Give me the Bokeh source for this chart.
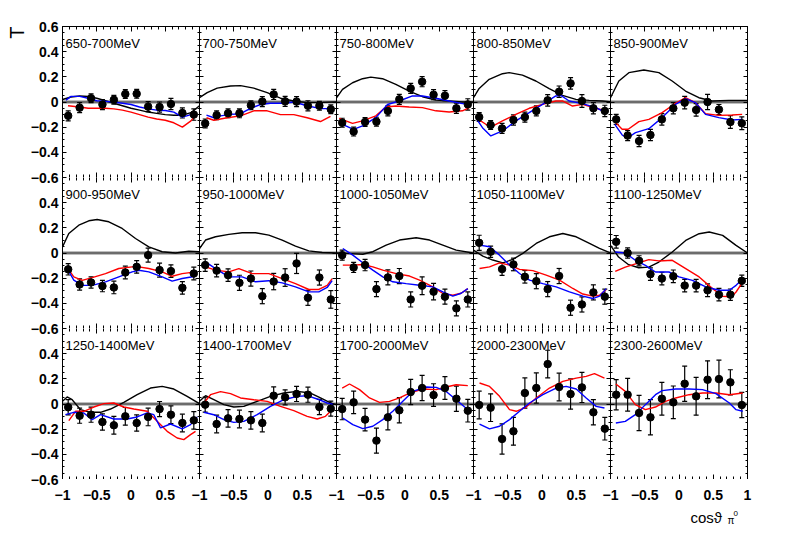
from bokeh.plotting import figure
from bokeh.models import (Range1d, LinearAxis, FixedTicker, Label, Whisker, Title,
                          ColumnDataSource, Span, TeeHead, GridPlot)
from bokeh.embed import file_html
from bokeh.resources import INLINE

# ---------------- data ----------------
energy_bins = ["650-700MeV", "700-750MeV", "750-800MeV", "800-850MeV", "850-900MeV",
               "900-950MeV", "950-1000MeV", "1000-1050MeV", "1050-1100MeV", "1100-1250MeV",
               "1250-1400MeV", "1400-1700MeV", "1700-2000MeV", "2000-2300MeV", "2300-2600MeV"]
cos_centers = [-0.917, -0.75, -0.583, -0.417, -0.25, -0.083, 0.083, 0.25, 0.417, 0.583, 0.75, 0.917]

x_ticks = [-1, -0.5, 0, 0.5, 1]
x_tick_labels = ["\u22121", "\u22120.5", "0", "0.5", "1"]
x_minor = [-1, -0.9, -0.8, -0.7, -0.6, -0.5, -0.4, -0.3, -0.2, -0.1, 0, 0.1, 0.2, 0.3, 0.4,
           0.5, 0.6, 0.7, 0.8, 0.9, 1]
y_ticks = [-0.6, -0.4, -0.2, 0, 0.2, 0.4, 0.6]
y_tick_labels = ["\u22120.6", "\u22120.4", "\u22120.2", "0", "0.2", "0.4", "0.6"]
y_minor = [-0.6, -0.55, -0.5, -0.45, -0.4, -0.35, -0.3, -0.25, -0.2, -0.15, -0.1, -0.05, 0,
           0.05, 0.1, 0.15, 0.2, 0.25, 0.3, 0.35, 0.4, 0.45, 0.5, 0.55, 0.6]

# measured asymmetry T and errors
T_650 = [-0.11, -0.045, 0.03, -0.02, 0.018, 0.063, 0.065, -0.037, -0.04, -0.016, -0.087, -0.1]
dT_650 = [0.04, 0.04, 0.035, 0.04, 0.035, 0.035, 0.035, 0.04, 0.04, 0.045, 0.04, 0.045]
T_700 = [-0.17, -0.105, -0.09, -0.09, -0.026, 0.003, 0.06, 0.005, 0.003, -0.03, -0.03, -0.058]
dT_700 = [0.035, 0.035, 0.035, 0.035, 0.035, 0.04, 0.04, 0.04, 0.04, 0.04, 0.035, 0.035]
T_750 = [-0.164, -0.235, -0.159, -0.156, -0.071, 0.021, 0.108, 0.161, 0.058, 0.05, -0.05, -0.019]
dT_750 = [0.035, 0.035, 0.035, 0.035, 0.04, 0.04, 0.04, 0.04, 0.04, 0.04, 0.04, 0.045]
T_800 = [-0.12, -0.183, -0.21, -0.143, -0.12, -0.071, 0.013, 0.082, 0.148, 0.008, -0.05, -0.071]
dT_800 = [0.035, 0.035, 0.04, 0.04, 0.04, 0.04, 0.045, 0.045, 0.045, 0.05, 0.045, 0.045]
T_850 = [-0.138, -0.267, -0.31, -0.262, -0.138, -0.05, -0.005, -0.063, 0.0, -0.06, -0.159, -0.169]
dT_850 = [0.04, 0.04, 0.045, 0.045, 0.045, 0.045, 0.05, 0.05, 0.06, 0.04, 0.05, 0.05]
T_900 = [-0.13, -0.25, -0.234, -0.263, -0.274, -0.155, -0.11, -0.017, -0.136, -0.144, -0.277, -0.163]
dT_900 = [0.045, 0.045, 0.045, 0.045, 0.05, 0.05, 0.05, 0.055, 0.055, 0.05, 0.05, 0.05]
T_950 = [-0.096, -0.14, -0.176, -0.237, -0.203, -0.343, -0.227, -0.195, -0.083, -0.356, -0.195, -0.369]
dT_950 = [0.05, 0.05, 0.05, 0.06, 0.06, 0.06, 0.065, 0.07, 0.08, 0.06, 0.06, 0.07]
T_1000 = [-0.017, -0.115, -0.096, -0.287, -0.194, -0.183, -0.369, -0.26, -0.307, -0.347, -0.44, -0.369]
dT_1000 = [0.04, 0.04, 0.045, 0.06, 0.06, 0.06, 0.06, 0.07, 0.065, 0.06, 0.06, 0.06]
T_1050 = [0.081, 0.01, -0.128, -0.091, -0.189, -0.224, -0.287, -0.183, -0.435, -0.409, -0.313, -0.347]
dT_1050 = [0.06, 0.045, 0.05, 0.05, 0.05, 0.06, 0.06, 0.06, 0.06, 0.06, 0.06, 0.06]
T_1100 = [0.089, 0.0, -0.062, -0.168, -0.203, -0.185, -0.259, -0.259, -0.296, -0.331, -0.331, -0.221]
dT_1100 = [0.05, 0.04, 0.04, 0.05, 0.05, 0.05, 0.05, 0.05, 0.05, 0.05, 0.045, 0.045]
T_1250 = [-0.026, -0.093, -0.085, -0.143, -0.169, -0.098, -0.151, -0.103, -0.04, -0.085, -0.151, -0.13]
dT_1250 = [0.06, 0.06, 0.06, 0.065, 0.07, 0.07, 0.065, 0.07, 0.06, 0.07, 0.07, 0.07]
T_1400 = [-0.005, -0.159, -0.114, -0.119, -0.13, -0.151, 0.066, 0.053, 0.08, 0.074, -0.024, -0.037]
dT_1400 = [0.06, 0.07, 0.07, 0.07, 0.07, 0.07, 0.07, 0.06, 0.06, 0.06, 0.06, 0.06]
T_1700 = [-0.04, 0.013, -0.124, -0.291, -0.106, -0.05, 0.095, 0.127, 0.071, 0.127, 0.042, -0.053]
dT_1700 = [0.085, 0.09, 0.09, 0.1, 0.1, 0.1, 0.1, 0.1, 0.09, 0.09, 0.1, 0.09]
T_2000 = [-0.008, -0.029, -0.278, -0.217, 0.087, 0.127, 0.317, 0.135, 0.079, 0.132, -0.066, -0.196]
dT_2000 = [0.11, 0.11, 0.12, 0.11, 0.12, 0.12, 0.11, 0.11, 0.12, 0.12, 0.1, 0.09]
T_2300 = [0.074, 0.074, -0.071, -0.106, 0.042, 0.013, 0.161, 0.061, 0.193, 0.198, 0.172, -0.008]
dT_2300 = [0.12, 0.13, 0.14, 0.14, 0.13, 0.13, 0.14, 0.15, 0.15, 0.15, 0.1, 0.1]

# model curves (black, red, blue)
blk_650_x = [-1, -0.875, -0.75, -0.625, -0.5, -0.375, -0.25, -0.125, 0, 0.125, 0.25, 0.375, 0.5, 0.625, 0.75, 0.875, 1]
blk_650_y = [0.02, 0.04, 0.048, 0.045, 0.03, 0.01, -0.01, -0.03, -0.05, -0.065, -0.08, -0.09, -0.1, -0.105, -0.105, -0.085, -0.03]
blu_650_x = [-0.95, -0.875, -0.75, -0.625, -0.5, -0.375, -0.25, -0.125, 0, 0.125, 0.25, 0.375, 0.5, 0.625, 0.75, 0.875, 0.95]
blu_650_y = [0.015, 0.045, 0.045, 0.03, 0.01, 0.005, 0, -0.01, -0.02, -0.04, -0.055, -0.065, -0.068, -0.08, -0.12, -0.1, -0.085]
red_650_x = [-0.92, -0.75, -0.625, -0.5, -0.375, -0.25, -0.125, 0, 0.125, 0.25, 0.375, 0.5, 0.625, 0.75, 0.875, 0.95]
red_650_y = [-0.03, -0.04, -0.05, -0.05, -0.05, -0.055, -0.065, -0.08, -0.1, -0.12, -0.135, -0.145, -0.165, -0.2, -0.15, -0.1]

blk_700_x = [-1, -0.888, -0.742, -0.547, -0.401, -0.207, -0.012, 0.182, 0.377, 0.572, 0.8, 1.0]
blk_700_y = [0.035, 0.075, 0.11, 0.127, 0.13, 0.11, 0.075, 0.03, 0.008, -0.005, -0.003, 0.0]
blu_700_x = [-0.898, -0.791, -0.693, -0.547, -0.401, -0.255, -0.109, 0.036, 0.231, 0.377, 0.572, 0.766, 0.937]
blu_700_y = [-0.105, -0.125, -0.11, -0.098, -0.093, -0.05, -0.02, -0.01, -0.01, 0.0, -0.03, -0.053, -0.053]
red_700_x = [-0.898, -0.791, -0.596, -0.401, -0.207, -0.012, 0.182, 0.377, 0.572, 0.766, 0.912]
red_700_y = [-0.125, -0.145, -0.125, -0.11, -0.07, -0.07, -0.1, -0.1, -0.125, -0.155, -0.115]

blk_750_x = [-1, -0.912, -0.766, -0.62, -0.499, -0.328, -0.134, 0.061, 0.255, 0.45, 0.645, 0.839, 1.0]
blk_750_y = [0.034, 0.1, 0.153, 0.185, 0.198, 0.185, 0.14, 0.087, 0.042, 0.016, 0.008, 0.0, 0.0]
blu_750_x = [-0.961, -0.864, -0.752, -0.62, -0.426, -0.255, -0.085, 0.109, 0.255, 0.45, 0.645, 0.839, 0.937]
blu_750_y = [-0.15, -0.19, -0.217, -0.19, -0.124, -0.02, 0.008, 0.048, 0.048, 0.03, 0.008, -0.013, -0.013]
red_750_x = [-0.961, -0.766, -0.62, -0.426, -0.28, -0.134, 0.061, 0.255, 0.45, 0.645, 0.839, 0.937]
red_750_y = [-0.13, -0.17, -0.15, -0.11, -0.04, -0.032, -0.04, -0.045, -0.07, -0.08, -0.07, -0.045]

blk_800_x = [-1, -0.917, -0.771, -0.577, -0.479, -0.285, -0.09, 0.105, 0.299, 0.494, 0.689, 0.883, 1.0]
blk_800_y = [0.034, 0.108, 0.18, 0.225, 0.233, 0.214, 0.167, 0.106, 0.053, 0.021, 0.013, 0.008, 0.003]
blu_800_x = [-0.951, -0.869, -0.747, -0.577, -0.382, -0.187, 0.007, 0.202, 0.275, 0.397, 0.591, 0.786, 0.932]
blu_800_y = [-0.138, -0.204, -0.27, -0.23, -0.15, -0.085, -0.019, 0.048, 0.053, 0.008, -0.013, -0.045, -0.085]
red_800_x = [-0.951, -0.82, -0.747, -0.577, -0.382, -0.187, 0.007, 0.202, 0.299, 0.445, 0.591, 0.786, 0.932]
red_800_y = [-0.13, -0.177, -0.2, -0.15, -0.098, -0.05, -0.019, 0.008, 0.008, -0.032, -0.019, -0.05, -0.071]

blk_850_x = [-1, -0.878, -0.732, -0.513, -0.294, -0.1, 0.095, 0.29, 0.484, 0.727, 1.0]
blk_850_y = [0.034, 0.167, 0.233, 0.254, 0.233, 0.167, 0.087, 0.034, 0.008, 0.013, 0.013]
blu_850_x = [-0.937, -0.83, -0.757, -0.635, -0.44, -0.246, -0.051, 0.095, 0.241, 0.387, 0.582, 0.776, 0.922]
blu_850_y = [-0.177, -0.262, -0.288, -0.243, -0.212, -0.124, -0.019, 0.026, -0.005, -0.098, -0.124, -0.143, -0.138]
red_850_x = [-0.937, -0.83, -0.742, -0.586, -0.44, -0.246, -0.051, 0.095, 0.241, 0.387, 0.582, 0.776, 0.922]
red_850_y = [-0.156, -0.217, -0.217, -0.156, -0.138, -0.085, -0.01, 0.034, -0.005, -0.093, -0.106, -0.103, -0.098]

blk_900_x = [-1, -0.908, -0.762, -0.616, -0.494, -0.324, -0.129, 0.066, 0.26, 0.455, 0.65, 0.844, 1.0]
blk_900_y = [0.049, 0.155, 0.221, 0.256, 0.266, 0.248, 0.195, 0.115, 0.049, 0.01, 0.0, 0.014, 0.01]
blu_900_x = [-0.932, -0.835, -0.713, -0.567, -0.372, -0.178, 0.017, 0.114, 0.26, 0.455, 0.601, 0.747, 0.942]
blu_900_y = [-0.123, -0.215, -0.257, -0.257, -0.23, -0.19, -0.15, -0.137, -0.15, -0.19, -0.224, -0.203, -0.185]
red_900_x = [-0.932, -0.835, -0.713, -0.567, -0.372, -0.178, 0.017, 0.114, 0.26, 0.455, 0.601, 0.747, 0.942]
red_900_y = [-0.115, -0.19, -0.217, -0.196, -0.164, -0.123, -0.11, -0.11, -0.123, -0.15, -0.185, -0.164, -0.15]

blk_950_x = [-1, -0.912, -0.766, -0.572, -0.377, -0.182, 0.012, 0.207, 0.401, 0.596, 0.791, 1.0]
blk_950_y = [0.035, 0.103, 0.129, 0.148, 0.161, 0.161, 0.142, 0.103, 0.054, 0.017, 0.004, 0.0]
blu_950_x = [-0.912, -0.766, -0.572, -0.377, -0.182, 0.012, 0.207, 0.401, 0.596, 0.742, 0.864, 0.937]
blu_950_y = [-0.07, -0.124, -0.19, -0.19, -0.229, -0.22, -0.237, -0.269, -0.309, -0.309, -0.274, -0.22]
red_950_x = [-0.912, -0.766, -0.572, -0.426, -0.231, 0.012, 0.207, 0.401, 0.596, 0.742, 0.864, 0.937]
red_950_y = [-0.11, -0.136, -0.15, -0.124, -0.164, -0.164, -0.203, -0.243, -0.29, -0.29, -0.257, -0.203]

blk_1000_x = [-1, -0.81, -0.616, -0.47, -0.275, -0.08, 0.163, 0.358, 0.552, 0.747, 1.0]
blk_1000_y = [0.0, -0.005, -0.01, 0.01, 0.063, 0.103, 0.121, 0.103, 0.063, 0.023, 0.0]
blu_1000_x = [-0.908, -0.762, -0.616, -0.47, -0.324, -0.178, 0.017, 0.212, 0.406, 0.552, 0.698, 0.82, 0.917]
blu_1000_y = [0.036, -0.017, -0.078, -0.136, -0.19, -0.229, -0.243, -0.256, -0.269, -0.309, -0.343, -0.32, -0.283]
red_1000_x = [-0.908, -0.762, -0.616, -0.47, -0.324, -0.129, 0.066, 0.212, 0.406, 0.552, 0.698, 0.82, 0.917]
red_1000_y = [-0.096, -0.096, -0.091, -0.11, -0.136, -0.164, -0.183, -0.215, -0.269, -0.322, -0.336, -0.32, -0.283]

blk_1050_x = [-1, -0.864, -0.718, -0.572, -0.426, -0.28, -0.085, 0.109, 0.304, 0.499, 0.693, 0.839, 1.0]
blk_1050_y = [0.023, -0.025, -0.056, -0.078, -0.051, -0.003, 0.076, 0.129, 0.155, 0.129, 0.076, 0.036, 0.0]
blu_1050_x = [-0.912, -0.766, -0.62, -0.474, -0.328, -0.182, 0.012, 0.207, 0.401, 0.596, 0.742, 0.839, 0.937]
blu_1050_y = [0.063, 0.05, -0.017, -0.096, -0.163, -0.215, -0.243, -0.269, -0.309, -0.343, -0.362, -0.343, -0.283]
red_1050_x = [-0.912, -0.766, -0.62, -0.474, -0.328, -0.134, 0.061, 0.255, 0.45, 0.596, 0.742, 0.839, 0.937]
red_1050_y = [-0.123, -0.11, -0.078, -0.096, -0.13, -0.14, -0.176, -0.215, -0.282, -0.326, -0.343, -0.336, -0.29]

blk_1100_x = [-1, -0.882, -0.735, -0.588, -0.441, -0.294, -0.098, 0.098, 0.294, 0.441, 0.637, 0.833, 1.0]
blk_1100_y = [0.061, -0.032, -0.093, -0.117, -0.112, -0.072, 0.008, 0.1, 0.153, 0.167, 0.14, 0.061, 0.0]
blu_1100_x = [-0.931, -0.784, -0.637, -0.49, -0.343, -0.147, 0.0, 0.196, 0.392, 0.588, 0.735, 0.833, 0.931]
blu_1100_y = [0.008, 0.0, -0.058, -0.098, -0.151, -0.151, -0.19, -0.217, -0.27, -0.296, -0.296, -0.257, -0.204]
red_1100_x = [-0.931, -0.784, -0.588, -0.441, -0.294, -0.098, 0.098, 0.294, 0.49, 0.637, 0.76, 0.833, 0.931]
red_1100_y = [-0.146, -0.112, -0.079, -0.053, -0.063, -0.058, -0.124, -0.19, -0.283, -0.344, -0.349, -0.31, -0.23]

blk_1250_x = [-1, -0.932, -0.859, -0.737, -0.591, -0.445, -0.299, -0.105, 0.09, 0.285, 0.455, 0.625, 0.82, 1.0]
blk_1250_y = [0.021, 0.056, 0.034, -0.045, -0.066, -0.066, -0.04, 0.013, 0.074, 0.127, 0.14, 0.119, 0.061, 0.003]
blu_1250_x = [-0.956, -0.835, -0.689, -0.567, -0.445, -0.251, -0.056, 0.09, 0.236, 0.333, 0.431, 0.577, 0.747, 0.869, 0.966]
blu_1250_y = [-0.085, -0.066, -0.071, -0.124, -0.085, -0.119, -0.119, -0.103, -0.071, -0.085, -0.19, -0.159, -0.198, -0.164, -0.103]
red_1250_x = [-0.908, -0.81, -0.689, -0.543, -0.397, -0.251, -0.105, 0.041, 0.236, 0.382, 0.528, 0.674, 0.771, 0.869, 0.942]
red_1250_y = [-0.132, -0.058, -0.058, -0.024, 0.003, 0.008, -0.024, -0.04, -0.058, -0.138, -0.217, -0.27, -0.283, -0.243, -0.217]

blk_1400_x = [-1, -0.912, -0.791, -0.645, -0.499, -0.353, -0.158, 0.036, 0.231, 0.426, 0.62, 0.766, 0.912, 1.0]
blk_1400_y = [0.021, 0.066, 0.034, -0.005, -0.024, -0.019, 0.021, 0.061, 0.087, 0.1, 0.087, 0.048, 0.008, -0.005]
blu_1400_x = [-0.937, -0.791, -0.645, -0.499, -0.353, -0.158, 0.036, 0.231, 0.426, 0.572, 0.718, 0.864, 0.961]
blu_1400_y = [-0.066, -0.085, -0.124, -0.146, -0.138, -0.085, -0.019, 0.034, 0.061, 0.066, 0.04, 0.008, -0.005]
red_1400_x = [-0.937, -0.839, -0.693, -0.547, -0.401, -0.207, -0.012, 0.182, 0.377, 0.572, 0.718, 0.839, 0.961]
red_1400_y = [0.008, 0.074, 0.098, 0.082, 0.048, 0.034, 0.021, -0.019, -0.053, -0.098, -0.119, -0.098, -0.032]

blu_1700_x = [-0.908, -0.762, -0.616, -0.47, -0.324, -0.178, -0.032, 0.114, 0.309, 0.455, 0.601, 0.747, 0.917]
blu_1700_y = [-0.111, -0.164, -0.196, -0.177, -0.124, -0.058, 0.021, 0.1, 0.135, 0.132, 0.1, 0.034, -0.045]
red_1700_x = [-0.917, -0.81, -0.664, -0.518, -0.372, -0.226, -0.08, 0.066, 0.26, 0.455, 0.601, 0.747, 0.917]
red_1700_y = [0.127, 0.159, 0.114, 0.048, 0.013, 0.021, 0.048, 0.087, 0.119, 0.114, 0.135, 0.153, 0.146]

blu_2000_x = [-0.912, -0.766, -0.62, -0.474, -0.328, -0.182, 0.012, 0.207, 0.353, 0.499, 0.645, 0.791, 0.912]
blu_2000_y = [-0.159, -0.198, -0.177, -0.124, -0.058, 0.008, 0.074, 0.127, 0.14, 0.119, 0.048, -0.019, -0.032]
red_2000_x = [-0.912, -0.766, -0.62, -0.474, -0.377, -0.231, -0.085, 0.109, 0.304, 0.499, 0.645, 0.766, 0.912]
red_2000_y = [0.167, 0.14, 0.061, -0.045, -0.058, -0.024, 0.048, 0.127, 0.18, 0.206, 0.22, 0.241, 0.206]

blu_2300_x = [-0.922, -0.784, -0.637, -0.49, -0.343, -0.245, -0.049, 0.147, 0.343, 0.539, 0.735, 0.833, 0.931]
blu_2300_y = [-0.151, -0.138, -0.085, -0.005, 0.074, 0.106, 0.119, 0.119, 0.114, 0.082, 0.008, -0.045, -0.058]
red_2300_x = [-0.922, -0.784, -0.637, -0.49, -0.343, -0.196, -0.049, 0.147, 0.343, 0.539, 0.735, 0.931]
red_2300_y = [0.159, 0.1, -0.005, -0.045, -0.024, 0.021, 0.048, 0.074, 0.087, 0.087, 0.074, 0.087]

panels = [
    (T_650, dT_650, (blk_650_x, blk_650_y), (red_650_x, red_650_y), (blu_650_x, blu_650_y)),
    (T_700, dT_700, (blk_700_x, blk_700_y), (red_700_x, red_700_y), (blu_700_x, blu_700_y)),
    (T_750, dT_750, (blk_750_x, blk_750_y), (red_750_x, red_750_y), (blu_750_x, blu_750_y)),
    (T_800, dT_800, (blk_800_x, blk_800_y), (red_800_x, red_800_y), (blu_800_x, blu_800_y)),
    (T_850, dT_850, (blk_850_x, blk_850_y), (red_850_x, red_850_y), (blu_850_x, blu_850_y)),
    (T_900, dT_900, (blk_900_x, blk_900_y), (red_900_x, red_900_y), (blu_900_x, blu_900_y)),
    (T_950, dT_950, (blk_950_x, blk_950_y), (red_950_x, red_950_y), (blu_950_x, blu_950_y)),
    (T_1000, dT_1000, (blk_1000_x, blk_1000_y), (red_1000_x, red_1000_y), (blu_1000_x, blu_1000_y)),
    (T_1050, dT_1050, (blk_1050_x, blk_1050_y), (red_1050_x, red_1050_y), (blu_1050_x, blu_1050_y)),
    (T_1100, dT_1100, (blk_1100_x, blk_1100_y), (red_1100_x, red_1100_y), (blu_1100_x, blu_1100_y)),
    (T_1250, dT_1250, (blk_1250_x, blk_1250_y), (red_1250_x, red_1250_y), (blu_1250_x, blu_1250_y)),
    (T_1400, dT_1400, (blk_1400_x, blk_1400_y), (red_1400_x, red_1400_y), (blu_1400_x, blu_1400_y)),
    (T_1700, dT_1700, None, (red_1700_x, red_1700_y), (blu_1700_x, blu_1700_y)),
    (T_2000, dT_2000, None, (red_2000_x, red_2000_y), (blu_2000_x, blu_2000_y)),
    (T_2300, dT_2300, None, (red_2300_x, red_2300_y), (blu_2300_x, blu_2300_y)),
]

# ---------------- layout ----------------
FW, FH = 137, 151
LEFT, TOP, BOTTOM, RIGHT = 62, 26, 46, 12
XLAB_BAND = 22          # strip under the panels holding the x tick labels
FONT = "Liberation Sans"
NR, NC = 3, 5


def tick_axis(ticks, minor, major_len, minor_len, line=True):
    ax = LinearAxis(ticker=FixedTicker(ticks=ticks, minor_ticks=minor))
    ax.major_tick_in = major_len
    ax.major_tick_out = 0
    ax.minor_tick_in = minor_len
    ax.minor_tick_out = 0
    ax.axis_line_color = "black" if line else None
    ax.major_tick_line_color = "black"
    ax.minor_tick_line_color = "black"
    ax.major_label_overrides = {t: "" for t in ticks}
    ax.major_label_text_font_size = "0px"
    ax.major_label_standoff = 0
    return ax


def label_axis(ticks, overrides, standoff):
    ax = LinearAxis(ticker=FixedTicker(ticks=ticks))
    ax.major_tick_in = 0
    ax.major_tick_out = 0
    ax.minor_tick_line_color = None
    ax.major_tick_line_color = None
    ax.axis_line_color = None
    ax.major_label_overrides = overrides
    ax.major_label_text_font = FONT
    ax.major_label_text_font_size = "14px"
    ax.major_label_text_font_style = "bold"
    ax.major_label_text_color = "black"
    ax.major_label_standoff = standoff
    return ax


def clear(fig):
    fig.outline_line_color = None
    fig.background_fill_alpha = 0
    fig.border_fill_alpha = 0


children = []
for r in range(NR):
    for c in range(NC):
        i = r * NC + c
        T, dT, blk, red, blu = panels[i]
        p = figure(frame_width=FW, frame_height=FH,
                   x_range=Range1d(-1, 1), y_range=Range1d(-0.6, 0.6),
                   x_axis_type=None, y_axis_type=None,
                   output_backend="svg", toolbar_location=None,
                   min_border_left=0,
                   min_border_right=RIGHT if c == NC - 1 else 0,
                   min_border_top=TOP if r == 0 else 0,
                   min_border_bottom=0)
        p.outline_line_color = None
        p.background_fill_color = "white"
        p.border_fill_color = "white"

        p.add_layout(tick_axis(x_ticks, x_minor, 5, 3), "below")
        p.add_layout(tick_axis(x_ticks, x_minor, 5, 3, line=(r == 0)), "above")
        p.add_layout(tick_axis(y_ticks, y_minor, 4, 2), "left")
        p.add_layout(tick_axis(y_ticks, y_minor, 4, 2, line=(c == NC - 1)), "right")

        # zero line
        p.add_layout(Span(location=0, dimension="width", line_color="#a8a8a8",
                          line_width=3.5, level="underlay"))
        p.add_layout(Span(location=0, dimension="width", line_color="#303030",
                          line_width=1, level="underlay"))

        if blk is not None:
            p.line(blk[0], blk[1], line_color="black", line_width=1.4)
        p.line(red[0], red[1], line_color="#ff0000", line_width=1.4)
        p.line(blu[0], blu[1], line_color="#0000ff", line_width=1.4)

        src = ColumnDataSource(dict(x=cos_centers, y=T,
                                    lo=[a - b for a, b in zip(T, dT)],
                                    up=[a + b for a, b in zip(T, dT)]))
        p.add_layout(Whisker(source=src, base="x", lower="lo", upper="up",
                             line_color="black", line_width=1.2,
                             lower_head=TeeHead(size=5, line_color="black", line_width=1.2),
                             upper_head=TeeHead(size=5, line_color="black", line_width=1.2)))
        p.scatter("x", "y", source=src, size=7.5, marker="circle",
                  fill_color="black", line_color="black")

        p.add_layout(Label(x=3, y=FH - 17, x_units="screen", y_units="screen",
                           text=energy_bins[i], text_font=FONT, text_font_size="13px",
                           text_baseline="alphabetic", text_align="left", text_color="black"))
        children.append((p, r, c + 1))

# ---- y tick labels: one tall figure spanning all rows; "T" as its left title
Y_TOP = round(NR * 1.2, 3)
y_lab = {}
for r in range(NR):
    for v, lab in zip(y_ticks, y_tick_labels):
        if r > 0 and v == y_ticks[-1]:
            continue
        y_lab[round((NR - 1 - r) * 1.2 + v + 0.6, 3)] = lab
yl = figure(frame_width=1, frame_height=NR * FH,
            x_range=Range1d(0, 1), y_range=Range1d(0, Y_TOP),
            x_axis_type=None, y_axis_type=None,
            output_backend="svg", toolbar_location=None,
            min_border_left=LEFT - 1, min_border_right=0,
            min_border_top=TOP, min_border_bottom=BOTTOM)
clear(yl)
yl.add_layout(label_axis(sorted(y_lab), y_lab, 4), "left")
yl.add_layout(Title(text="T", align="right", text_font=FONT, text_font_size="20px",
                    text_font_style="normal", text_color="black", standoff=0, offset=0),
              "left")
children.append((yl, 0, 0, NR + 1, 1))

# ---- x tick labels (above its frame) and the x title (inside its frame)
x_lab = {}
for c in range(NC):
    for v, lab in zip(x_ticks, x_tick_labels):
        t = round(c * 2 + v + 1, 3)
        if v == x_ticks[-1] and c < NC - 1:
            continue
        x_lab[t] = lab
XF_H = BOTTOM - XLAB_BAND
xl = figure(frame_width=NC * FW, frame_height=XF_H,
            x_range=Range1d(0, NC * 2), y_range=Range1d(0, 1),
            x_axis_type=None, y_axis_type=None,
            output_backend="svg", toolbar_location=None,
            min_border_left=LEFT, min_border_right=RIGHT,
            min_border_top=XLAB_BAND, min_border_bottom=0)
clear(xl)
xl.add_layout(label_axis(sorted(x_lab), x_lab, 2), "above")
# frame-relative screen units: x from frame left (page x 62), y from frame bottom (page y 525)
xl.add_layout(Label(x=628, y=8, x_units="screen", y_units="screen",
                    text="cos\u03d1", text_font=FONT, text_font_size="15px",
                    text_baseline="alphabetic", text_align="left", text_color="black"))
xl.add_layout(Label(x=665, y=5, x_units="screen", y_units="screen",
                    text="\u03c0", text_font=FONT, text_font_size="10px",
                    text_baseline="alphabetic", text_align="left", text_color="black"))
xl.add_layout(Label(x=671, y=12, x_units="screen", y_units="screen",
                    text="0", text_font=FONT, text_font_size="8px",
                    text_baseline="alphabetic", text_align="left", text_color="black"))
children.append((xl, NR, 0, 1, NC + 1))

grid = GridPlot(children=children, toolbar_location=None)

with open("out.html", "w") as f:
    f.write(file_html(grid, INLINE))
